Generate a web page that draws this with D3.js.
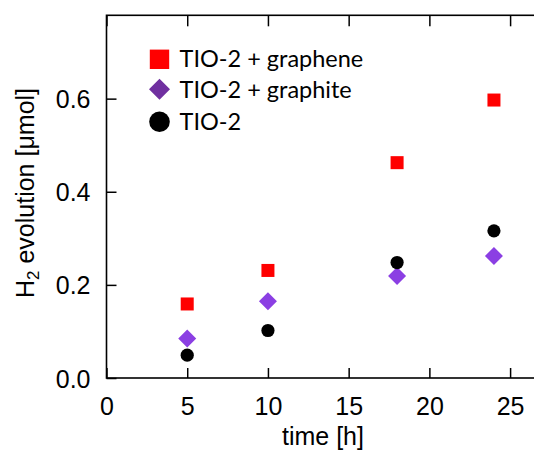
<!DOCTYPE html>
<html><head><meta charset="utf-8">
<script src="https://cdn.jsdelivr.net/npm/d3@7"></script>
<style>body{margin:0;background:#fff;overflow:hidden}</style>
</head><body>
<svg id="c" width="534" height="450"></svg>
<script>
const times = [5, 10, 18, 24];
const graphene = [0.159, 0.231, 0.4625, 0.597];
const graphite = [0.085, 0.165, 0.219, 0.262];
const tio2 = [0.049, 0.102, 0.248, 0.316];
const xTicks = [0, 5, 10, 15, 20, 25];
const yTicks = [0, 0.2, 0.4, 0.6];
const legendLabels = ["TIO-2 + graphene", "TIO-2 + graphite", "TIO-2"];

const svg = d3.select("#c");
const L = 106.5, R = 544, T = 15.3, B = 378;
const x = d3.scaleLinear().domain([0, 27.1]).range([L, R]);
const y = d3.scaleLinear().domain([0, 0.779]).range([B, T]);
const axisFont = "'Liberation Sans', Arial, sans-serif";

// frame
svg.append("rect").attr("x", L).attr("y", T).attr("width", R - L).attr("height", B - T)
  .attr("fill", "none").attr("stroke", "#000").attr("stroke-width", 1.6);

// axes with inward ticks
const gx = svg.append("g").attr("transform", `translate(0,${B})`)
  .call(d3.axisBottom(x).tickValues(xTicks).tickSize(-10).tickPadding(19).tickFormat(d3.format("d")));
const gxt = svg.append("g").attr("transform", `translate(0,${T})`)
  .call(d3.axisTop(x).tickValues(xTicks).tickSize(-11).tickFormat(""));
const gy = svg.append("g").attr("transform", `translate(${L},0)`)
  .call(d3.axisLeft(y).tickValues(yTicks).tickSize(-10).tickPadding(16).tickFormat(d3.format(".1f")));
const gyr = svg.append("g").attr("transform", `translate(${R},0)`)
  .call(d3.axisRight(y).tickValues(yTicks).tickSize(-10).tickFormat(""));
[gx, gxt, gy, gyr].forEach(g => {
  g.select(".domain").remove();
  g.selectAll(".tick line").attr("stroke", "#000").attr("stroke-width", 1.5);
  g.selectAll("text").attr("font-family", axisFont).attr("font-size", 25).attr("fill", "#000");
});
gy.selectAll(".tick text").attr("dy", "0.36em");

// axis titles
svg.append("text").attr("x", 323).attr("y", 445).attr("text-anchor", "middle")
  .attr("font-family", axisFont).attr("font-size", 25).text("time [h]");
const yt = svg.append("text").attr("transform", "translate(33.5,193) rotate(-90)")
  .attr("text-anchor", "middle").attr("font-family", axisFont).attr("font-size", 25);
yt.append("tspan").text("H");
yt.append("tspan").attr("font-size", 17).attr("dy", 5).text("2");
yt.append("tspan").attr("dy", -5).text(" evolution [\u03bcmol]");

// data
const sq = 13;
svg.append("g").selectAll("rect").data(times).join("rect")
  .attr("x", (d) => x(d) - sq / 2).attr("y", (d, i) => y(graphene[i]) - sq / 2)
  .attr("width", sq).attr("height", sq).attr("fill", "#ff0000");
const dm = 9;
svg.append("g").selectAll("path").data(times).join("path")
  .attr("transform", (d, i) => `translate(${x(d)},${y(graphite[i])})`)
  .attr("d", `M0,${-dm}L${dm},0L0,${dm}L${-dm},0Z`).attr("fill", "#8b3fe3");
svg.append("g").selectAll("circle").data(times).join("circle")
  .attr("cx", (d) => x(d)).attr("cy", (d, i) => y(tio2[i])).attr("r", 6.6).attr("fill", "#000");

// legend
const legFont = "Lato, 'Open Sans', sans-serif";
const lx = 159.5, rows = [59.3, 89.3, 121.7], base = [66.7, 98.3, 130];
svg.append("rect").attr("x", lx - 9.7).attr("y", rows[0] - 9.7).attr("width", 19.4).attr("height", 19.4).attr("fill", "#ff0000");
svg.append("path").attr("transform", `translate(${lx},${rows[1]})`)
  .attr("d", "M0,-10.5L10.5,0L0,10.5L-10.5,0Z").attr("fill", "#7030a0");
svg.append("circle").attr("cx", lx).attr("cy", rows[2]).attr("r", 10.3).attr("fill", "#000");
svg.append("g").selectAll("text").data(legendLabels).join("text")
  .attr("x", 179.5).attr("y", (d, i) => base[i]).attr("font-family", legFont)
  .attr("font-size", 23.5).attr("fill", "#000").text(d => d);
</script>
</body></html>
